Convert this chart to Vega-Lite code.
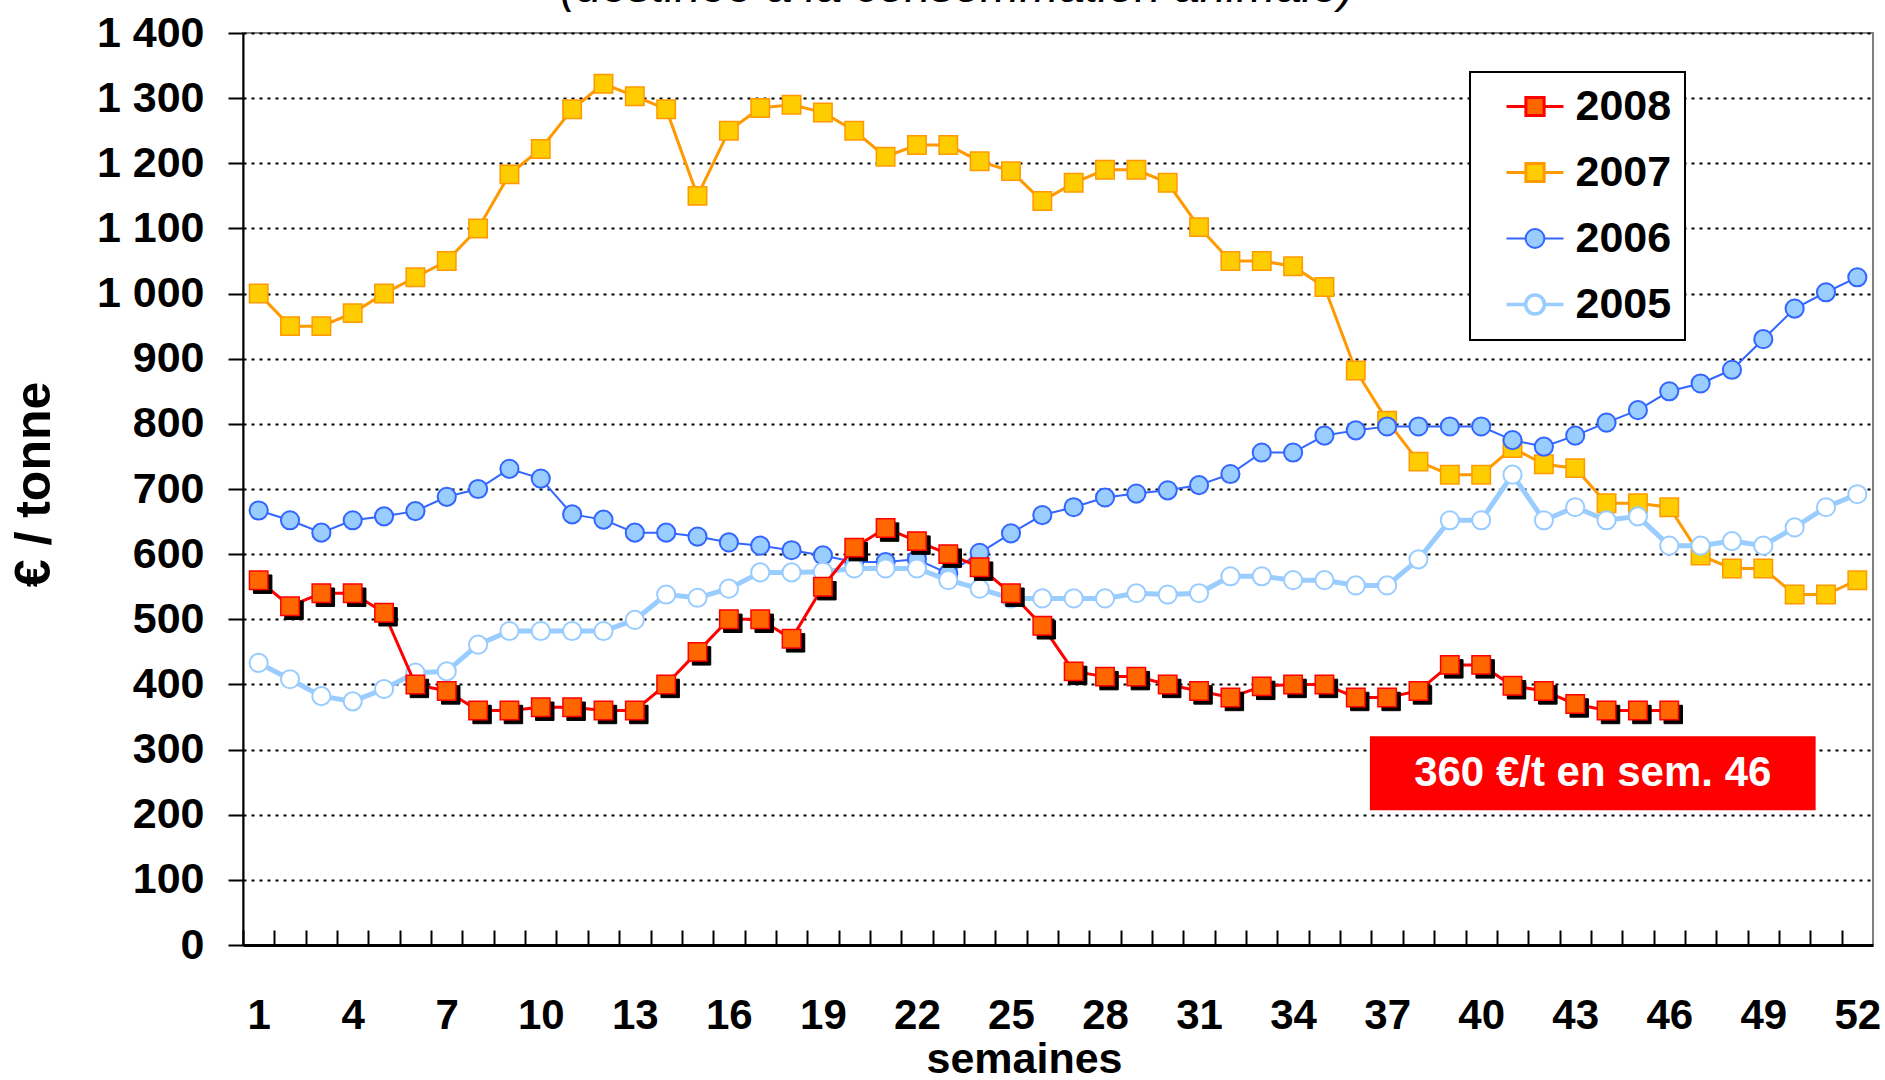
{
  "$schema": "https://vega.github.io/schema/vega-lite/v6.json",
  "width": 1630,
  "height": 912,
  "autosize": {"type": "none"},
  "padding": {"left": 243, "top": 33, "right": 12, "bottom": 135},
  "background": "white",
  "config": {
    "font": "Liberation Sans",
    "view": {"stroke": "#808080", "strokeWidth": 2}
  },
  "title": {
    "text": "(destinée à la consommation animale)",
    "font": "Liberation Sans",
    "fontStyle": "italic",
    "fontWeight": "normal",
    "fontSize": 47,
    "color": "#000000",
    "anchor": "middle",
    "frame": "group",
    "baseline": "alphabetic",
    "offset": -37,
    "dx": -101
  },
  "data": {
    "values": [
      {"week": 1, "2008": 560, "2007": 1000, "2006": 667, "2005": 433},
      {"week": 2, "2008": 520, "2007": 950, "2006": 652, "2005": 408},
      {"week": 3, "2008": 540, "2007": 950, "2006": 633, "2005": 382},
      {"week": 4, "2008": 540, "2007": 970, "2006": 652, "2005": 374},
      {"week": 5, "2008": 510, "2007": 1000, "2006": 658, "2005": 393},
      {"week": 6, "2008": 400, "2007": 1025, "2006": 666, "2005": 418},
      {"week": 7, "2008": 390, "2007": 1050, "2006": 688, "2005": 420},
      {"week": 8, "2008": 360, "2007": 1100, "2006": 700, "2005": 461},
      {"week": 9, "2008": 360, "2007": 1183, "2006": 731, "2005": 482},
      {"week": 10, "2008": 365, "2007": 1222, "2006": 716, "2005": 482},
      {"week": 11, "2008": 365, "2007": 1283, "2006": 661, "2005": 482},
      {"week": 12, "2008": 360, "2007": 1322, "2006": 653, "2005": 482},
      {"week": 13, "2008": 360, "2007": 1303, "2006": 633, "2005": 499},
      {"week": 14, "2008": 400, "2007": 1283, "2006": 633, "2005": 538},
      {"week": 15, "2008": 450, "2007": 1150, "2006": 627, "2005": 533},
      {"week": 16, "2008": 500, "2007": 1250, "2006": 618, "2005": 547},
      {"week": 17, "2008": 500, "2007": 1285, "2006": 613, "2005": 572},
      {"week": 18, "2008": 470, "2007": 1290, "2006": 606, "2005": 572},
      {"week": 19, "2008": 550, "2007": 1278, "2006": 598, "2005": 573},
      {"week": 20, "2008": 610, "2007": 1250, "2006": 588, "2005": 578},
      {"week": 21, "2008": 640, "2007": 1210, "2006": 588, "2005": 578},
      {"week": 22, "2008": 620, "2007": 1228, "2006": 592, "2005": 578},
      {"week": 23, "2008": 600, "2007": 1228, "2006": 570, "2005": 560},
      {"week": 24, "2008": 580, "2007": 1203, "2006": 602, "2005": 547},
      {"week": 25, "2008": 540, "2007": 1188, "2006": 632, "2005": 532},
      {"week": 26, "2008": 490, "2007": 1142, "2006": 660, "2005": 532},
      {"week": 27, "2008": 420, "2007": 1170, "2006": 672, "2005": 532},
      {"week": 28, "2008": 412, "2007": 1190, "2006": 687, "2005": 532},
      {"week": 29, "2008": 412, "2007": 1190, "2006": 693, "2005": 540},
      {"week": 30, "2008": 400, "2007": 1170, "2006": 698, "2005": 538},
      {"week": 31, "2008": 390, "2007": 1102, "2006": 706, "2005": 540},
      {"week": 32, "2008": 380, "2007": 1050, "2006": 723, "2005": 566},
      {"week": 33, "2008": 397, "2007": 1050, "2006": 756, "2005": 566},
      {"week": 34, "2008": 400, "2007": 1042, "2006": 756, "2005": 560},
      {"week": 35, "2008": 400, "2007": 1010, "2006": 782, "2005": 560},
      {"week": 36, "2008": 380, "2007": 882, "2006": 790, "2005": 552},
      {"week": 37, "2008": 380, "2007": 805, "2006": 796, "2005": 552},
      {"week": 38, "2008": 390, "2007": 742, "2006": 796, "2005": 592},
      {"week": 39, "2008": 430, "2007": 722, "2006": 796, "2005": 652},
      {"week": 40, "2008": 430, "2007": 722, "2006": 796, "2005": 652},
      {"week": 41, "2008": 398, "2007": 763, "2006": 775, "2005": 722},
      {"week": 42, "2008": 390, "2007": 738, "2006": 765, "2005": 652},
      {"week": 43, "2008": 370, "2007": 732, "2006": 782, "2005": 672},
      {"week": 44, "2008": 360, "2007": 678, "2006": 802, "2005": 652},
      {"week": 45, "2008": 360, "2007": 678, "2006": 821, "2005": 658},
      {"week": 46, "2008": 360, "2007": 672, "2006": 850, "2005": 613},
      {"week": 47, "2007": 598, "2006": 862, "2005": 613},
      {"week": 48, "2007": 578, "2006": 883, "2005": 620},
      {"week": 49, "2007": 578, "2006": 930, "2005": 613},
      {"week": 50, "2007": 538, "2006": 977, "2005": 641},
      {"week": 51, "2007": 538, "2006": 1002, "2005": 672},
      {"week": 52, "2007": 560, "2006": 1025, "2005": 692}
    ]
  },
  "transform": [
    {"fold": ["2008", "2007", "2006", "2005"], "as": ["year", "price"]},
    {"filter": "isValid(datum.price)"}
  ],
  "encoding": {
    "x": {
      "field": "week",
      "type": "quantitative",
      "scale": {"domain": [0.5, 52.5], "nice": false, "zero": false},
      "axis": {
        "title": "semaines",
        "values": [1,2,3,4,5,6,7,8,9,10,11,12,13,14,15,16,17,18,19,20,21,22,23,24,25,26,27,28,29,30,31,32,33,34,35,36,37,38,39,40,41,42,43,44,45,46,47,48,49,50,51,52],
        "labelExpr": "datum.value % 3 == 1 ? datum.label : ''",
        "tickOffset": -15.67,
        "labelOffset": 15.67,
        "tickSize": -15,
        "tickWidth": 2,
        "tickColor": "#000000",
        "domainColor": "#000000",
        "domainWidth": 3,
        "grid": false,
        "labelFont": "Liberation Sans",
        "labelFontSize": 42,
        "labelFontWeight": "bold",
        "labelColor": "#000000",
        "labelBaseline": "alphabetic",
        "labelPadding": 98,
        "labelOverlap": false,
        "labelFlush": false,
        "titleFont": "Liberation Sans",
        "titleFontSize": 43,
        "titleFontWeight": "bold",
        "titleColor": "#000000",
        "titleBaseline": "alphabetic",
        "titleAlign": "center",
        "titleX": 781,
        "titleY": 127
      }
    },
    "y": {
      "field": "price",
      "type": "quantitative",
      "scale": {"domain": [0, 1400], "nice": false, "zero": true},
      "axis": {
        "title": "€ / tonne",
        "values": [0,100,200,300,400,500,600,700,800,900,1000,1100,1200,1300,1400],
        "labelExpr": "replace(format(datum.value, ','), ',', ' ')",
        "tickSize": 15,
        "tickWidth": 2,
        "tickColor": "#000000",
        "domainColor": "#000000",
        "domainWidth": 2,
        "grid": true,
        "gridColor": "#000000",
        "gridDash": [3, 5],
        "gridWidth": 2,
        "labelFont": "Liberation Sans",
        "labelFontSize": 43,
        "labelFontWeight": "bold",
        "labelColor": "#000000",
        "labelPadding": 24,
        "labelOverlap": false,
        "labelFlush": false,
        "titleFont": "Liberation Sans",
        "titleFontSize": 50,
        "titleFontWeight": "bold",
        "titleColor": "#000000",
        "titleAngle": -90,
        "titleAlign": "center",
        "titleBaseline": "middle",
        "titleX": -209,
        "titleY": 451
      }
    }
  },
  "layer": [
    {
      "transform": [{"filter": "datum.year == '2007'"}],
      "layer": [
        {
          "mark": {"type": "line", "strokeWidth": 3},
          "encoding": {
            "color": {
              "field": "year",
              "type": "nominal",
              "scale": {"domain": ["2008", "2007", "2006", "2005"], "range": ["#FF0000", "#FF9900", "#3366FF", "#99CCFF"]},
              "legend": {
                "title": null,
                "orient": "none",
                "legendX": 1227,
                "legendY": 39,
                "direction": "vertical",
                "padding": 13,
                "fillColor": "#FFFFFF",
                "strokeColor": "#000000",
                "symbolSize": 3249,
                "symbolOffset": 30.5,
                "symbolStrokeWidth": 3,
                "labelOffset": 19,
                "rowPadding": 22,
                "labelFont": "Liberation Sans",
                "labelFontSize": 43,
                "labelFontWeight": "bold",
                "labelColor": "#000000",
                "labelLimit": 400,
                "labelExpr": "datum.label + '\u00a0\u00a0\u00a0\u00a0\u00a0\u00a0'",
                "encode": {
                  "legend": {"update": {"strokeWidth": {"value": 2}}},
                  "symbols": {
                    "update": {
                      "shape": {"signal": "(datum.value == '2006' || datum.value == '2005') ? 'M-1,0H-0.33M0.33,0H1M-0.33,0A0.33,0.33 0 1,1 0.33,0A0.33,0.33 0 1,1 -0.33,0Z' : 'M-1,0H-0.32M0.32,0H1M-0.32,-0.32H0.32V0.32H-0.32Z'"},
                      "fill": {"signal": "datum.value == '2008' ? '#FF6600' : datum.value == '2007' ? '#FFCC00' : datum.value == '2006' ? '#99CCFF' : '#FFFFFF'"},
                      "strokeWidth": {"signal": "datum.value == '2005' ? 3.5 : datum.value == '2006' ? 2 : 3"},
                      "opacity": {"value": 1},
                      "fillOpacity": {"value": 1}
                    }
                  }
                }
              }
            }
          }
        },
        {
          "mark": {"type": "point", "shape": "square", "size": 340, "filled": true, "fill": "#FFCC00", "stroke": "#FF9900", "strokeWidth": 1.5, "opacity": 1}
        }
      ]
    },
    {
      "transform": [{"filter": "datum.year == '2006'"}],
      "layer": [
        {"mark": {"type": "line", "strokeWidth": 2, "stroke": "#3366FF"}, "encoding": {}},
        {"mark": {"type": "point", "shape": "circle", "size": 330, "filled": true, "fill": "#99CCFF", "stroke": "#3366FF", "strokeWidth": 2, "opacity": 1}}
      ]
    },
    {
      "transform": [{"filter": "datum.year == '2005'"}],
      "layer": [
        {"mark": {"type": "line", "strokeWidth": 5, "stroke": "#99CCFF"}, "encoding": {}},
        {"mark": {"type": "point", "shape": "circle", "size": 330, "filled": true, "fill": "#FFFFFF", "stroke": "#99CCFF", "strokeWidth": 2, "opacity": 1}}
      ]
    },
    {
      "transform": [{"filter": "datum.year == '2008'"}],
      "layer": [
        {"mark": {"type": "line", "strokeWidth": 3, "stroke": "#FF0000"}, "encoding": {}},
        {"mark": {"type": "point", "shape": "square", "size": 340, "filled": true, "fill": "#000000", "stroke": "#000000", "strokeWidth": 1, "opacity": 1, "xOffset": 4, "yOffset": 4}},
        {"mark": {"type": "point", "shape": "square", "size": 340, "filled": true, "fill": "#FF6600", "stroke": "#FF0000", "strokeWidth": 1.5, "opacity": 1}}
      ]
    },
    {
      "data": {"values": [{"week": 36.45, "week2": 50.67, "price": 207, "price2": 320.6}]},
      "mark": {"type": "rect", "fill": "#FF0000"},
      "encoding": {
        "x": {"field": "week", "type": "quantitative"},
        "x2": {"field": "week2"},
        "y": {"field": "price", "type": "quantitative"},
        "y2": {"field": "price2"}
      }
    },
    {
      "data": {"values": [{"week": 43.56, "price": 264, "label": "360 €/t en sem. 46"}]},
      "mark": {"type": "text", "font": "Liberation Sans", "fontSize": 42, "fontWeight": "bold", "color": "#FFFFFF", "align": "center", "baseline": "middle"},
      "encoding": {
        "x": {"field": "week", "type": "quantitative"},
        "y": {"field": "price", "type": "quantitative"},
        "text": {"field": "label"}
      }
    }
  ]
}
